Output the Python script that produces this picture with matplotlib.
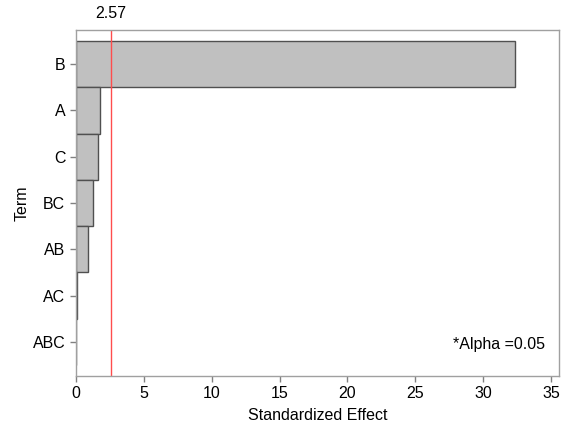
import matplotlib.pyplot as plt
import numpy as np

# Pareto chart of the standardized effects (alpha = 0.05)
terms = ['B', 'A', 'C', 'BC', 'AB', 'AC', 'ABC']
effects = [32.3, 1.81, 1.66, 1.30, 0.93, 0.12, 0.05]
critical = 2.57
x_ticks = [0, 5, 10, 15, 20, 25, 30, 35]

plt.rcParams['font.family'] = ['Liberation Sans', 'DejaVu Sans']
plt.rcParams['font.size'] = 11.5

fig = plt.figure(figsize=(5.68, 4.26), dpi=100)
ax = fig.add_axes([0.1333, 0.1174, 0.8517, 0.8122])

pos = np.arange(len(terms))
ax.barh(pos, effects, height=1.0, color='#c0c0c0', edgecolor='#505050',
        linewidth=1.0)
ax.axvline(critical, color='#ff4d4d', linewidth=1.0)

ax.set_ylim(len(terms) - 0.5 + 0.24, -0.5 - 0.24)
ax.set_xlim(0, 35.6)
ax.set_yticks(pos)
ax.set_yticklabels(terms)
ax.set_xticks(x_ticks)

for s in ax.spines.values():
    s.set_color('#a0a0a0')
    s.set_linewidth(1.0)
ax.tick_params(colors='#808080', labelcolor='black', length=4, width=1)

ax.set_xlabel('Standardized Effect', labelpad=5)
ax.set_ylabel('Term')
ax.yaxis.set_label_coords(-0.095, 0.5)

ax.text(critical, 1.025, f'{critical:.2f}', transform=ax.get_xaxis_transform(),
        ha='center', va='bottom')
ax.text(0.97, 0.09, '*Alpha =0.05', transform=ax.transAxes,
        ha='right', va='center')

fig.savefig('out.png', dpi=100)
